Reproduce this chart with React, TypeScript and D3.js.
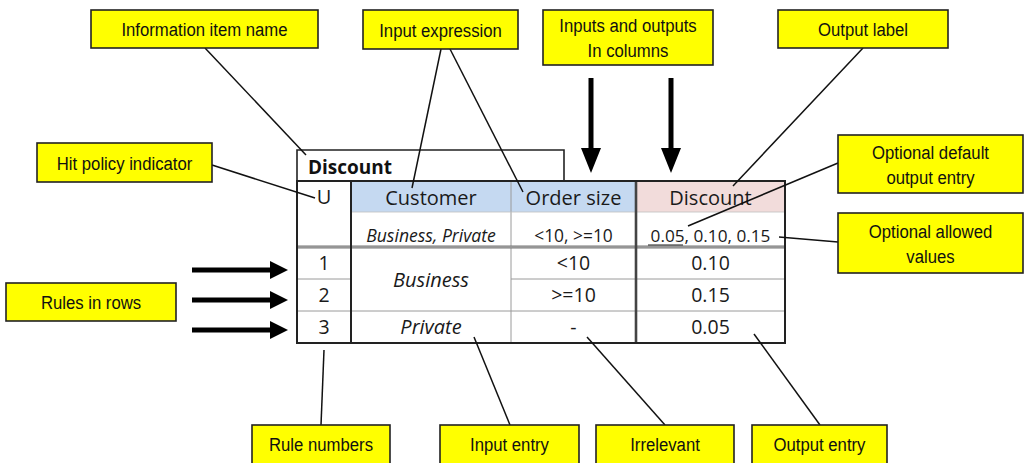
import React from "react";
import * as d3 from "d3";

// decision table content
const tableName = "Discount";
const hitPolicy = "U";
const inputLabels = ["Customer", "Order size"];
const outputLabel = "Discount";
const allowedValues = ["Business, Private", "<10, >=10", "0.05, 0.10, 0.15"];
const ruleNumbers = ["1", "2", "3"];
const customerEntries = ["Business", "Business", "Private"];
const orderSizeEntries = ["<10", ">=10", "-"];
const discountEntries = ["0.10", "0.15", "0.05"];

// callout labels
const calloutLabels = [
  "Information item name",
  "Input expression",
  "Inputs and outputs\nIn columns",
  "Output label",
  "Optional default\noutput entry",
  "Optional allowed\nvalues",
  "Hit policy indicator",
  "Rules in rows",
  "Rule numbers",
  "Input entry",
  "Irrelevant",
  "Output entry",
];

const W = 1025;
const H = 463;
const FONT = "'Open Sans', sans-serif";
const LABEL_FONT = "'Liberation Sans', Arial, sans-serif";

// callout boxes: x0, y0, x1, y1 (same order as calloutLabels)
const boxes = [
  [91, 10, 318, 48],
  [363, 10, 518, 49],
  [543, 10, 713, 65],
  [778, 10, 948, 48],
  [838, 135, 1023, 193],
  [838, 213, 1023, 273],
  [37, 143, 212, 182],
  [6, 283, 176, 321],
  [252, 425, 390, 467],
  [440, 425, 579, 467],
  [596, 425, 734, 467],
  [752, 425, 887, 467],
];

// leader lines
const leaders = [
  [205, 48, 306, 155],
  [441, 49, 412, 188],
  [450, 49, 523, 192],
  [863, 48, 733, 186],
  [838, 163, 688, 226],
  [838, 242, 779, 237],
  [212, 165, 315, 198],
  [324, 350, 321, 425],
  [474, 337, 510, 425],
  [587, 337, 665, 425],
  [754, 334, 820, 425],
];

const App = () => {
  // column boundaries
  const colKeys = ["rule", "customer", "order", "discount", "end"];
  const colX = d3.scaleOrdinal<string, number>().domain(colKeys).range([297, 351, 511, 636, 785]);
  const cx = (k: string) => (colX(k) + colX(colKeys[colKeys.indexOf(k) + 1])) / 2;

  const top = 181;
  const headerBottom = 212;
  const allowedBottom = 247;
  const bottom = 343;
  const rowY = d3.scaleBand<string>().domain(ruleNumbers).range([allowedBottom, bottom]);
  const rowMid = (r: string) => (rowY(r) as number) + rowY.bandwidth() / 2;

  const grey = "#9a9a9a";

  return (
    <svg width={W} height={H} style={{ position: "absolute", left: 0, top: 0, background: "#fff" }}>
      {/* header fills */}
      <rect x={colX("customer")} y={top} width={colX("discount") - colX("customer")} height={headerBottom - top} fill="#c5d9f1" />
      <rect x={colX("discount")} y={top} width={colX("end") - colX("discount")} height={headerBottom - top} fill="#f2dcdb" />

      {/* title box */}
      <path d={`M${colX("rule")},${top} V150 H564 V${top}`} fill="none" stroke="#222" strokeWidth={1.6} />
      <text x={308} y={174} fontFamily={FONT} fontWeight="bold" fontSize={19} fill="#111">{tableName}</text>

      {/* inner grid */}
      <line x1={colX("order")} x2={colX("order")} y1={top} y2={bottom} stroke={grey} strokeWidth={1} />
      <line x1={colX("customer")} x2={colX("end")} y1={headerBottom} y2={headerBottom} stroke="#bfbfbf" strokeWidth={0.8} />
      <line x1={colX("rule")} x2={colX("end")} y1={allowedBottom} y2={allowedBottom} stroke="#777" strokeWidth={3} />
      <line x1={colX("rule")} x2={colX("end")} y1={allowedBottom} y2={allowedBottom} stroke="#ddd" strokeWidth={0.6} />
      {ruleNumbers.slice(1).map((r) => (
        <line key={r} x1={r === "2" ? colX("order") : colX("rule")} x2={colX("end")} y1={rowY(r)} y2={rowY(r)} stroke={grey} strokeWidth={1} />
      ))}
      {ruleNumbers.slice(1, 2).map((r) => (
        <line key={"n" + r} x1={colX("rule")} x2={colX("customer")} y1={rowY(r)} y2={rowY(r)} stroke={grey} strokeWidth={1} />
      ))}
      <line x1={colX("customer")} x2={colX("customer")} y1={top} y2={bottom} stroke="#222" strokeWidth={2} />
      <line x1={colX("discount")} x2={colX("discount")} y1={top} y2={bottom} stroke="#444" strokeWidth={2.6} />
      <rect x={colX("rule")} y={top} width={colX("end") - colX("rule")} height={bottom - top} fill="none" stroke="#222" strokeWidth={2} />

      {/* header texts */}
      <g fontFamily={FONT} fill="#1a1a1a" textAnchor="middle">
        <text x={cx("rule")} y={204} fontSize={20}>{hitPolicy}</text>
        {inputLabels.map((l, i) => (
          <text key={l} x={cx(i === 0 ? "customer" : "order")} y={205} fontSize={20}>{l}</text>
        ))}
        <text x={cx("discount")} y={205} fontSize={20}>{outputLabel}</text>

        <text x={cx("customer")} y={242} fontSize={17.6} fontStyle="italic">{allowedValues[0]}</text>
        <text x={cx("order")} y={242} fontSize={17.4}>{allowedValues[1]}</text>
        <text x={cx("discount")} y={242} fontSize={17.2}>{allowedValues[2]}</text>
        <line x1={648} x2={683} y1={245} y2={245} stroke="#1a1a1a" strokeWidth={1} />

        {ruleNumbers.map((r) => (
          <text key={"r" + r} x={cx("rule")} y={rowMid(r) + 7} fontSize={19.5}>{r}</text>
        ))}
        <text x={cx("customer")} y={(rowY("1") as number) + rowY.bandwidth() + 8} fontSize={20} fontStyle="italic">{customerEntries[0]}</text>
        <text x={cx("customer")} y={rowMid("3") + 7} fontSize={20} fontStyle="italic">{customerEntries[2]}</text>
        {ruleNumbers.map((r, i) => (
          <text key={"o" + r} x={cx("order")} y={rowMid(r) + 7} fontSize={19.5}>{orderSizeEntries[i]}</text>
        ))}
        {ruleNumbers.map((r, i) => (
          <text key={"d" + r} x={cx("discount")} y={rowMid(r) + 7} fontSize={19.5}>{discountEntries[i]}</text>
        ))}
      </g>

      {/* leader lines */}
      {leaders.map((l, i) => (
        <line key={"l" + i} x1={l[0]} y1={l[1]} x2={l[2]} y2={l[3]} stroke="#111" strokeWidth={1.5} />
      ))}

      {/* thick arrows down */}
      {[591, 671].map((x) => (
        <g key={"a" + x}>
          <line x1={x} x2={x} y1={78} y2={150} stroke="#000" strokeWidth={5} />
          <polygon points={`${x - 10},148 ${x + 10},148 ${x},173`} fill="#000" />
        </g>
      ))}
      {/* thick arrows right */}
      {ruleNumbers.map((r, i) => {
        const y = 270 + i * 30;
        return (
          <g key={"h" + r}>
            <line x1={192} x2={272} y1={y} y2={y} stroke="#000" strokeWidth={5} />
            <polygon points={`270,${y - 9} 270,${y + 9} 288,${y}`} fill="#000" />
          </g>
        );
      })}

      {/* callout boxes */}
      {calloutLabels.map((label, i) => {
        const [x0, y0, x1, y1] = boxes[i];
        const lines = label.split("\n");
        const midY = (Math.min(y1, H) + y0) / 2;
        return (
          <g key={label}>
            <rect x={x0} y={y0} width={x1 - x0} height={y1 - y0} fill="#ffff00" stroke="#222" strokeWidth={1.6} />
            {lines.map((t, j) => (
              <text
                key={j}
                transform={`translate(${(x0 + x1) / 2},${midY + 7 + (j - (lines.length - 1) / 2) * 25}) scale(0.88,1)`}
                textAnchor="middle"
                fontFamily={LABEL_FONT}
                fontSize={19}
                fill="#111"
              >
                {t}
              </text>
            ))}
          </g>
        );
      })}
    </svg>
  );
};

export default App;
